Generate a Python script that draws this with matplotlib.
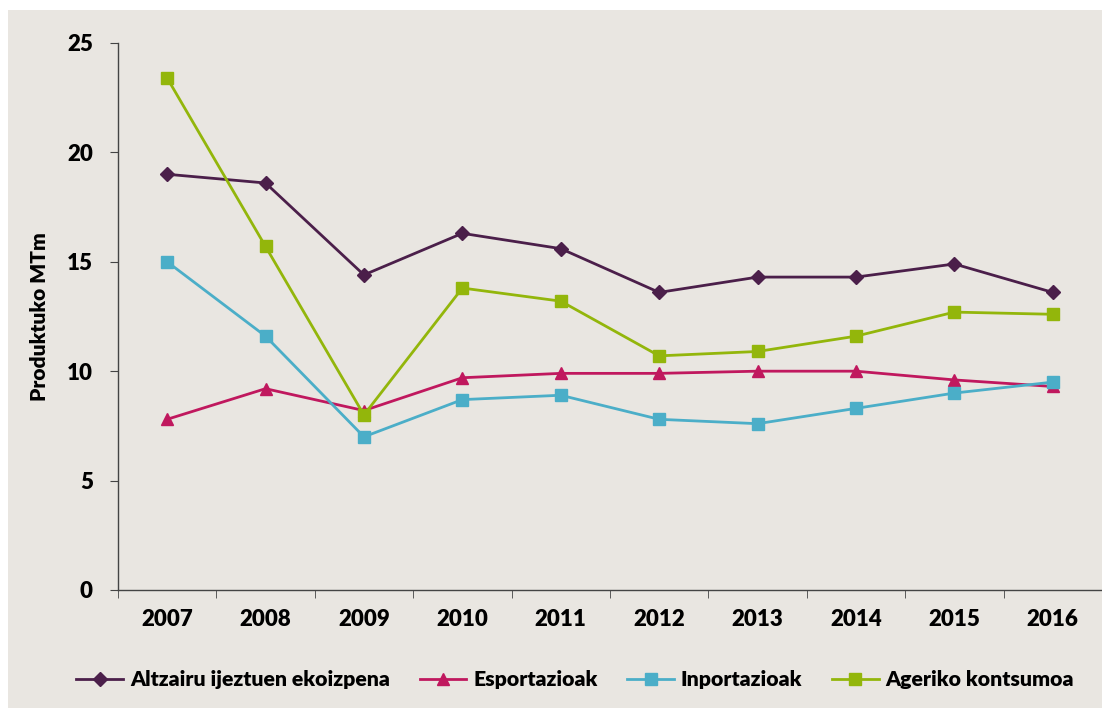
import numpy as np
import matplotlib.pyplot as plt
from matplotlib.patches import Rectangle

plt.rcParams['font.family'] = ['Lato', 'DejaVu Sans']

years = ["2007", "2008", "2009", "2010", "2011", "2012", "2013", "2014", "2015", "2016"]
altzairu = [19.0, 18.6, 14.4, 16.3, 15.6, 13.6, 14.3, 14.3, 14.9, 13.6]
esportazioak = [7.8, 9.2, 8.2, 9.7, 9.9, 9.9, 10.0, 10.0, 9.6, 9.3]
inportazioak = [15.0, 11.6, 7.0, 8.7, 8.9, 7.8, 7.6, 8.3, 9.0, 9.5]
ageriko = [23.4, 15.7, 8.0, 13.8, 13.2, 10.7, 10.9, 11.6, 12.7, 12.6]

bg = "#E9E6E1"
fig = plt.figure(figsize=(11.02, 7.08), dpi=100, facecolor="white")
fig.patches.append(Rectangle((8 / 1102, 0), 1, 1 - 10 / 708, transform=fig.transFigure,
                             facecolor=bg, edgecolor="none", zorder=-1))
ax = fig.add_axes([0.107, 0.1667, 0.893, 0.7726])
ax.set_facecolor(bg)

x = np.arange(len(years))
ax.plot(x, altzairu, color="#4B1F4A", marker="D", markersize=7, lw=2, label="Altzairu ijeztuen ekoizpena")
ax.plot(x, esportazioak, color="#C0185E", marker="^", markersize=9, lw=2, label="Esportazioak")
ax.plot(x, inportazioak, color="#4BAEC8", marker="s", markersize=9, lw=2, label="Inportazioak")
ax.plot(x, ageriko, color="#93B60B", marker="s", markersize=9, lw=2, label="Ageriko kontsumoa")

ax.set_xlim(-0.5, 9.5)
ax.set_ylim(0, 25)
ax.set_yticks([0, 5, 10, 15, 20, 25])
ax.set_xticks(x)
ax.set_xticklabels(years)
ax.set_xticks(np.arange(-0.5, 9.6, 1), minor=True)
ax.tick_params(axis="x", which="major", length=0, pad=14)
ax.tick_params(axis="x", which="minor", length=6, color="#444444")
ax.tick_params(axis="y", length=6, color="#444444", pad=12)
for lab in ax.get_xticklabels() + ax.get_yticklabels():
    lab.set_fontsize(16)
    lab.set_fontweight("heavy")

for s in ["top", "right"]:
    ax.spines[s].set_visible(False)
for s in ["left", "bottom"]:
    ax.spines[s].set_color("#444444")
    ax.spines[s].set_linewidth(1)

ax.set_ylabel("Produktuko MTm", fontsize=15, fontweight="heavy", labelpad=13)

fig.legend(*ax.get_legend_handles_labels(), loc="center", bbox_to_anchor=(0.522, 0.04), ncol=4,
           frameon=False, prop={"size": 15.3, "weight": "heavy"}, handlelength=2.2,
           columnspacing=1.4, handletextpad=0.32)

fig.savefig("out.png", dpi=100, facecolor=fig.get_facecolor())
